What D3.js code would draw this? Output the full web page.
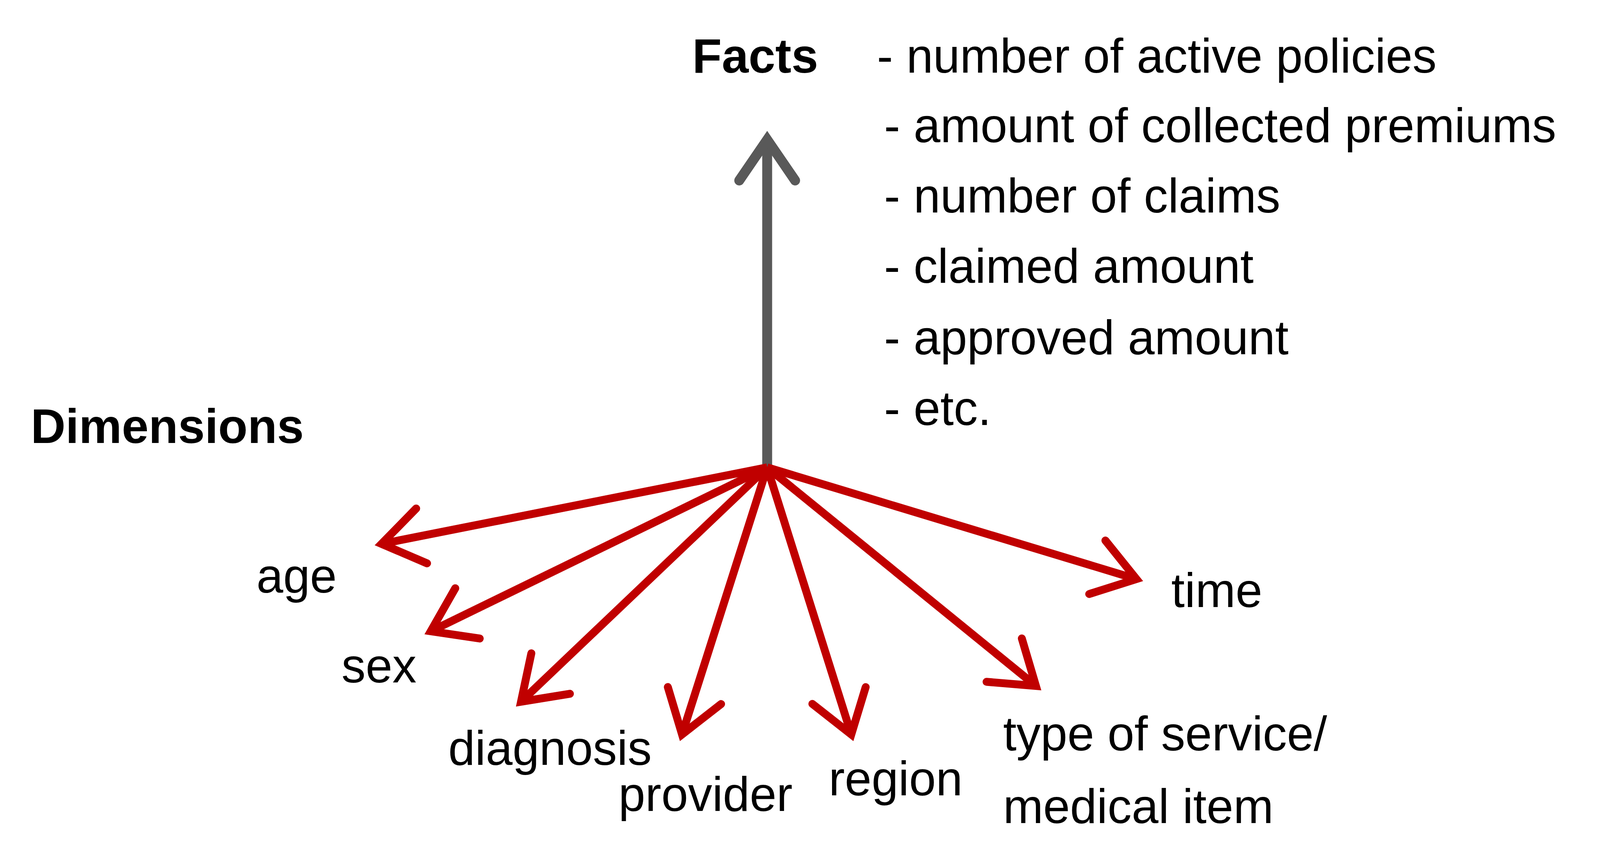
<!DOCTYPE html>
<html><head><meta charset="utf-8">
<script src="https://cdn.jsdelivr.net/npm/d3@7"></script>
<style>html,body{margin:0;padding:0;overflow:hidden;background:#fff}svg{display:block}</style>
</head><body>
<script>
// Diagram units = reference display units (1560 x 715)
const origin = [748, 385];
const factTip = [748, 115];
const dimNames = ["age","sex","diagnosis","provider","region","type","time"];
const dimTipX = [372, 420, 508, 665, 830, 1010, 1108];
const dimTipY = [448, 520, 578, 605, 605, 565, 477];
const dimLabels = [["age"],["sex"],["diagnosis"],["provider"],["region"],["type of service/","medical item"],["time"]];
const labelX = [250, 333, 437, 603, 808, 978, 1142];
const labelY = [488, 562, 630, 668, 655, 618, 500];
const factLines = ["- number of active policies","- amount of collected premiums","- number of claims","- claimed amount","- approved amount","- etc."];
const factX = [855, 862, 862, 862, 862, 862];
const factY = [60, 117, 175, 233, 292, 350];

const W = window.innerWidth || 4848, H = window.innerHeight || 2222;
const x = d3.scaleLinear().domain([0, 1560]).range([0, W]);
const y = d3.scaleLinear().domain([0, 715]).range([0, H]);
const svg = d3.select("body").append("svg").attr("width", W).attr("height", H);
const k = Math.min(W / 4848, H / 2222);

function arrow(p0, p1, color, sw, head) {
  const x0 = x(p0[0]), y0 = y(p0[1]), x1 = x(p1[0]), y1 = y(p1[1]);
  const a = Math.atan2(y1 - y0, x1 - x0);
  const g = svg.append("g").attr("stroke", color).attr("fill", "none");
  g.append("line").attr("x1", x0).attr("y1", y0)
    .attr("x2", x1 - Math.cos(a) * sw * 0.8).attr("y2", y1 - Math.sin(a) * sw * 0.8)
    .attr("stroke-width", sw);
  const da = 0.6;
  const pa = [x1 - head * Math.cos(a - da), y1 - head * Math.sin(a - da)];
  const pb = [x1 - head * Math.cos(a + da), y1 - head * Math.sin(a + da)];
  g.append("path").attr("d", d3.line()([pa, [x1, y1], pb]))
    .attr("stroke-width", sw).attr("stroke-linejoin", "miter").attr("stroke-miterlimit", 10)
    .attr("stroke-linecap", "round");
}

arrow(origin, factTip, "#595959", 30 * k, 150 * k);
dimNames.forEach((n, i) => arrow(origin, [dimTipX[i], dimTipY[i]], "#C00000", 24 * k, 150 * k));

const font = "'Liberation Sans', Arial, sans-serif";
const fs = 146 * k;
svg.append("text").attr("x", x(675)).attr("y", y(60)).attr("font-family", font)
  .attr("font-size", fs).attr("font-weight", "bold").text("Facts");
svg.append("text").attr("x", x(30)).attr("y", y(365)).attr("font-family", font)
  .attr("font-size", fs).attr("font-weight", "bold").text("Dimensions");
factLines.forEach((t, i) => svg.append("text").attr("x", x(factX[i])).attr("y", y(factY[i]))
  .attr("font-family", font).attr("font-size", fs).text(t));
dimLabels.forEach((lines, i) => lines.forEach((t, j) =>
  svg.append("text").attr("x", x(labelX[i])).attr("y", y(labelY[i] + j * 60))
    .attr("font-family", font).attr("font-size", fs).text(t)));
</script>
</body></html>
